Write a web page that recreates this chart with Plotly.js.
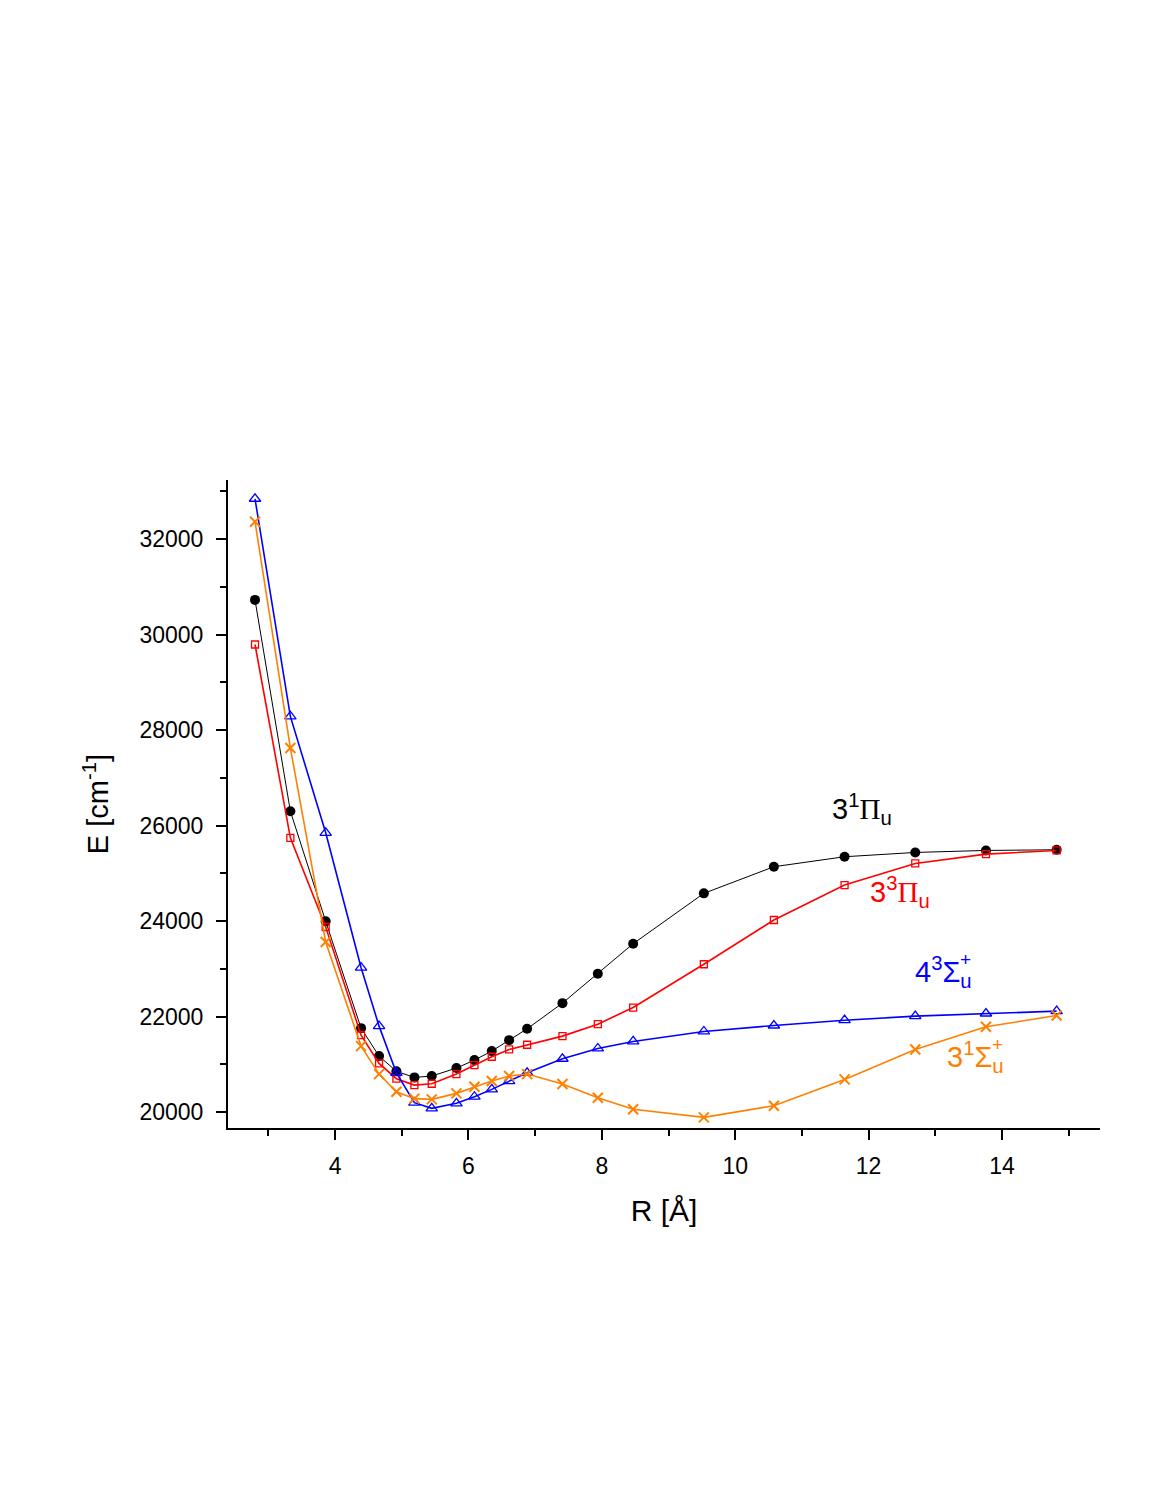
<!DOCTYPE html>
<html>
<head>
<meta charset="utf-8">
<script src="https://cdn.plot.ly/plotly-3.0.1.min.js"></script>
<style>
  html, body { margin: 0; padding: 0; background: #fff; }
  #chart { width: 1163px; height: 1504px; }
</style>
</head>
<body>
<div id="chart"></div>
<script>
// Internuclear distance R [Å]
const R = [2.80, 3.33, 3.86, 4.39, 4.66, 4.92, 5.19, 5.45, 5.82, 6.09, 6.35, 6.61, 6.88,
           7.41, 7.94, 8.47, 9.53, 10.58, 11.64, 12.70, 13.76, 14.82];

// Energies [cm^-1]
const E_3_1Pi_u = [30725, 26300, 23993, 21756, 21171, 20851, 20725, 20753, 20920, 21087, 21275, 21505, 21742,
                   22280, 22895, 23525, 24579, 25137, 25346, 25436, 25478, 25492];
const E_3_3Pi_u = [29791, 25743, 23874, 21610, 21018, 20697, 20564, 20592, 20794, 20983, 21157, 21310, 21408,
                   21589, 21840, 22188, 23094, 24021, 24753, 25206, 25401, 25478];
const E_4_3Sig_u = [32843, 28286, 25847, 23025, 21798, 20820, 20195, 20077, 20182, 20320, 20474, 20648, 20822,
                    21115, 21331, 21478, 21687, 21812, 21923, 22007, 22063, 22112];
const E_3_1Sig_u = [32363, 27625, 23561, 21380, 20794, 20425, 20280, 20265, 20390, 20530, 20648, 20753, 20794,
                    20585, 20300, 20056, 19888, 20132, 20683, 21310, 21784, 22021];

const xTickVals = [4, 6, 8, 10, 12, 14];
const yTickVals = [20000, 22000, 24000, 26000, 28000, 30000, 32000];

const FONT = 'Liberation Sans, Arial, sans-serif';
const BLACK = '#000000', RED = '#FF0000', BLUE = '#0000FF', ORANGE = '#FF8000';

const traces = [
  { x: R, y: E_3_1Pi_u, mode: 'lines+markers', name: '3¹Πu',
    line: { color: BLACK, width: 1 },
    marker: { symbol: 'circle', size: 10, color: BLACK } },
  { x: R, y: E_3_3Pi_u, mode: 'lines+markers', name: '3³Πu',
    line: { color: RED, width: 1.6 },
    marker: { symbol: 'square-open', size: 7, color: RED, line: { width: 1.3, color: RED } } },
  { x: R, y: E_4_3Sig_u, mode: 'lines+markers', name: '4³Σu+',
    line: { color: BLUE, width: 1.6 },
    marker: { symbol: 'triangle-up-open', size: 10, color: BLUE, line: { width: 1.3, color: BLUE } } },
  { x: R, y: E_3_1Sig_u, mode: 'lines+markers', name: '3¹Σu+',
    line: { color: ORANGE, width: 1.6 },
    marker: { symbol: 'x-thin-open', size: 10, color: ORANGE, line: { width: 2, color: ORANGE } } }
];

const PI = '<span style="font-family:Liberation Serif">Π</span>';
const annFont = (c) => ({ family: FONT, size: 29, color: c });
const annotations = [
  { x: 11.42, y: 26345, xref: 'x', yref: 'y', xanchor: 'left', yanchor: 'middle', showarrow: false,
    text: '3<sup>1</sup>' + PI + '<sub>u</sub>', font: annFont(BLACK) },
  { x: 11.99, y: 24607, xref: 'x', yref: 'y', xanchor: 'left', yanchor: 'middle', showarrow: false,
    text: '3<sup>3</sup>' + PI + '<sub>u</sub>', font: annFont(RED) },
  { x: 12.67, y: 22932, xref: 'x', yref: 'y', xanchor: 'left', yanchor: 'middle', showarrow: false,
    text: '4<sup>3</sup>Σ<sub>u</sub>', font: annFont(BLUE) },
  { x: 12.67, y: 22932, xref: 'x', yref: 'y', xanchor: 'left', yanchor: 'middle', showarrow: false,
    xshift: 45, yshift: 13, text: '+', font: { family: FONT, size: 19, color: BLUE } },
  { x: 13.15, y: 21152, xref: 'x', yref: 'y', xanchor: 'left', yanchor: 'middle', showarrow: false,
    text: '3<sup>1</sup>Σ<sub>u</sub>', font: annFont(ORANGE) },
  { x: 13.15, y: 21152, xref: 'x', yref: 'y', xanchor: 'left', yanchor: 'middle', showarrow: false,
    xshift: 45, yshift: 13, text: '+', font: { family: FONT, size: 19, color: ORANGE } }
];

const layout = {
  width: 1163, height: 1504,
  paper_bgcolor: '#ffffff', plot_bgcolor: '#ffffff',
  margin: { l: 228, r: 63, t: 480, b: 376 },
  showlegend: false,
  font: { family: FONT, color: BLACK },
  xaxis: {
    range: [2.395, 15.47],
    tickvals: xTickVals, ticktext: xTickVals.map(String),
    ticks: 'outside', ticklen: 10, tickwidth: 2, tickcolor: BLACK,
    minor: { dtick: 1, tick0: 1, ticks: 'outside', ticklen: 6, tickwidth: 2, tickcolor: BLACK },
    showline: true, linecolor: BLACK, linewidth: 2, mirror: false,
    showgrid: false, zeroline: false,
    tickfont: { family: FONT, size: 23, color: BLACK },
    ticklabelstandoff: 6,
    title: { text: 'R [Å]', font: { family: FONT, size: 30, color: BLACK }, standoff: 22 }
  },
  yaxis: {
    range: [19665, 33236],
    tickvals: yTickVals, ticktext: yTickVals.map(String),
    ticks: 'outside', ticklen: 10, tickwidth: 2, tickcolor: BLACK,
    minor: { dtick: 1000, tick0: 0, ticks: 'outside', ticklen: 6, tickwidth: 2, tickcolor: BLACK },
    showline: true, linecolor: BLACK, linewidth: 2, mirror: false,
    showgrid: false, zeroline: false,
    tickfont: { family: FONT, size: 23, color: BLACK },
    ticklabelstandoff: 8,
    title: { text: 'E [cm<sup>-1</sup>]', font: { family: FONT, size: 29, color: BLACK }, standoff: 22 }
  },
  annotations: annotations
};

Plotly.newPlot('chart', traces, layout, { displayModeBar: false, staticPlot: true });
</script>
</body>
</html>
